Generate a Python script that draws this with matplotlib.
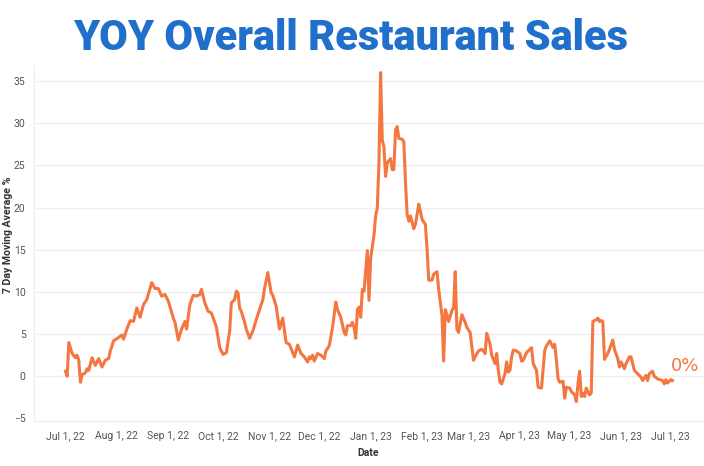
import numpy as np
import pandas as pd
import matplotlib
matplotlib.use("Agg")
import matplotlib.pyplot as plt
import matplotlib.dates as mdates

# days since Jul 1, 2022 and the 7 day moving average YOY %
days = [0, 1, 2, 4, 6, 7, 8, 9, 10, 12, 13, 14, 16, 18, 20, 22, 24, 26, 27, 29,
        32, 34, 35, 37, 39, 41, 43, 45, 47, 49, 52, 54, 56, 58, 60, 62, 65, 66, 68,
        70, 72, 73, 75, 77, 79, 81, 82, 84, 86, 88, 90, 91, 93, 95, 97, 99, 100,
        102, 103, 104, 105, 106, 108, 109, 111, 113, 115, 117, 119, 120, 122, 124,
        125, 127, 129, 131, 133, 135, 138, 140, 142, 144, 146, 147, 148, 149, 150,
        152, 154, 156, 157, 159, 161, 163, 164, 166, 168, 169, 170, 172, 173, 174,
        175, 176, 177, 178, 179, 180, 182, 183, 184, 186, 187, 188, 189, 190, 191,
        192, 193, 194, 196, 197, 198, 199, 200, 201, 203, 204, 205, 206, 207, 208,
        210, 211, 213, 214, 215, 217, 218, 219, 221, 222, 224, 225, 227, 228, 229,
        230, 231, 233, 234, 235, 236, 237, 239, 241, 242, 244, 246, 247, 249, 251,
        252, 253, 254, 256, 257, 259, 260, 261, 262, 263, 265, 266, 267, 268, 269,
        270, 272, 274, 275, 276, 278, 279, 281, 282, 284, 285, 287, 289, 290, 292,
        293, 294, 295, 296, 297, 298, 300, 301, 302, 304, 305, 307, 308, 309, 310,
        311, 312, 313, 314, 316, 317, 318, 320, 321, 322, 323, 324, 325, 327, 328,
        330, 331, 333, 334, 335, 337, 338, 340, 341, 343, 345, 347, 348, 350, 351,
        352, 354, 355, 357, 360, 361, 362, 363, 365, 366]
values = [0.6, 0.0, 4.0, 2.7, 2.2, 2.5, 1.9, -0.7, 0.2, 0.4, 0.9, 0.7, 2.2, 1.3, 2.1,
          1.1, 1.9, 2.1, 3.0, 4.2, 4.6, 4.9, 4.4, 5.6, 6.6, 6.5, 8.1, 7.0, 8.5, 9.1,
          11.1, 10.4, 10.4, 9.5, 9.7, 8.9, 6.9, 6.4, 4.3,
          5.6, 6.5, 5.6, 8.5, 9.6, 9.5, 9.7, 10.3, 8.7, 7.7, 7.5, 6.4, 5.8, 3.4, 2.6,
          2.8, 5.4, 8.7, 9.1, 10.1, 9.9, 8.1, 7.7, 6.4, 5.6, 4.5, 5.4, 6.7, 7.9, 9.1,
          10.4, 12.3, 9.9, 9.6, 8.3, 5.6, 6.9, 4.0, 3.8, 2.3, 3.7, 2.7,
          2.3, 1.7, 2.3, 2.1, 2.5, 1.8, 2.7, 2.5, 2.1, 3.0, 3.6, 5.8, 8.8, 7.9, 7.0,
          5.2, 4.9, 6.0, 6.0, 6.4, 5.8, 4.5, 7.9, 8.2, 7.0, 10.3, 10.1, 14.9, 9.0,
          14.0, 16.7, 19.0, 20.0, 25.3, 36.0, 28.0, 27.2, 23.7, 25.3, 25.8, 24.5,
          24.5, 29.2, 29.6, 28.2, 28.1, 27.8, 23.0, 19.2, 18.4, 19.0,
          17.5, 18.0, 20.4, 19.6, 18.6, 18.0, 15.1, 11.4, 11.4, 12.1, 12.4, 10.3,
          7.3, 1.8, 7.9, 7.3, 6.5, 7.8, 8.1, 12.4, 5.6, 5.2, 7.3, 6.4, 5.8, 5.2, 1.9,
          2.3, 3.0, 3.2, 3.0, 2.7, 5.1, 3.8, 2.5, 1.5, 2.7, 0.7, -0.7,
          -0.9, 0.3, 1.7, 0.5, 0.7, 2.3, 3.1, 3.0, 2.7, 1.8, 1.9, 2.8, 3.0, 3.4, 1.5,
          0.7, -1.3, -1.4, 3.1, 3.6, 4.2, 3.8, 3.4, 3.8, 1.9, -0.3, -0.7, -0.6, -2.6,
          -1.3, -1.4, -1.8, -2.2, -3.0, -0.9, 0.6, -2.4, -2.0, -2.4, -1.4, -2.2, -2.0,
          6.5, 6.7, 6.9, 6.5, 6.6, 6.5, 2.0,
          2.7, 3.2, 4.3, 3.2, 2.1, 1.1, 1.7, 0.9, 1.5, 2.3, 2.3, 0.7, 0.3, -0.1, -0.5,
          0.1, -0.5, 0.3, 0.6, 0.0, -0.3, -0.5, -0.9, -0.4, -0.8, -0.4, -0.5]

dates = pd.Timestamp("2022-07-01") + pd.to_timedelta(days, unit="D")
month_ticks = pd.date_range("2022-07-01", "2023-07-01", freq="MS")

orange = "#F47640"
blue = "#1F6FCB"
narrow = ["Roboto", "DejaVu Sans"]

fig = plt.figure(figsize=(7.04, 4.66), dpi=100)
ax = fig.add_axes([34 / 704, 45 / 466, 670 / 704, 356 / 466])

ax.plot(dates, values, color=orange, lw=2.2, solid_joinstyle="round")

ax.set_ylim(-5.3, 36.9)
ax.set_xlim(pd.Timestamp("2022-06-12"), pd.Timestamp("2023-07-21"))
ax.set_yticks(range(-5, 36, 5))
ax.set_xticks(month_ticks)
ax.xaxis.set_major_formatter(mdates.DateFormatter("%b %-d, %y"))

for v in range(0, 36, 5):
    ax.axhline(v, color="#EEEEEE", lw=0.9, zorder=0)

for s in ["top", "right"]:
    ax.spines[s].set_visible(False)
for s in ["left", "bottom"]:
    ax.spines[s].set_color("#EEEEEE")
    ax.spines[s].set_linewidth(0.9)

ax.tick_params(length=0, labelsize=7.5, labelcolor="#555555")
ax.tick_params(axis="y", pad=6)
ax.tick_params(axis="x", pad=7)
for lab in ax.get_xticklabels() + ax.get_yticklabels():
    lab.set_family(narrow)

ax.annotate("0%", xy=(dates[-1], values[-1]), xytext=(-1, 4),
            textcoords="offset points", ha="left", va="bottom",
            color=orange, fontsize=13)

fig.text(351 / 704, 1 - 38 / 466, "YOY Overall Restaurant Sales",
         ha="center", va="center", color=blue, fontsize=30,
         family=["Roboto", "DejaVu Sans"], weight="black")
fig.text(8 / 704, 1 - 235 / 466, "7 Day Moving Average %", rotation=90,
         ha="center", va="center", fontsize=7.6, weight="bold", color="#333333",
         family=narrow)
fig.text(368 / 704, 1 - 453 / 466, "Date", ha="center", va="center",
         fontsize=7.5, weight="bold", color="#333333", family=narrow)

fig.savefig("out.png", dpi=100)
